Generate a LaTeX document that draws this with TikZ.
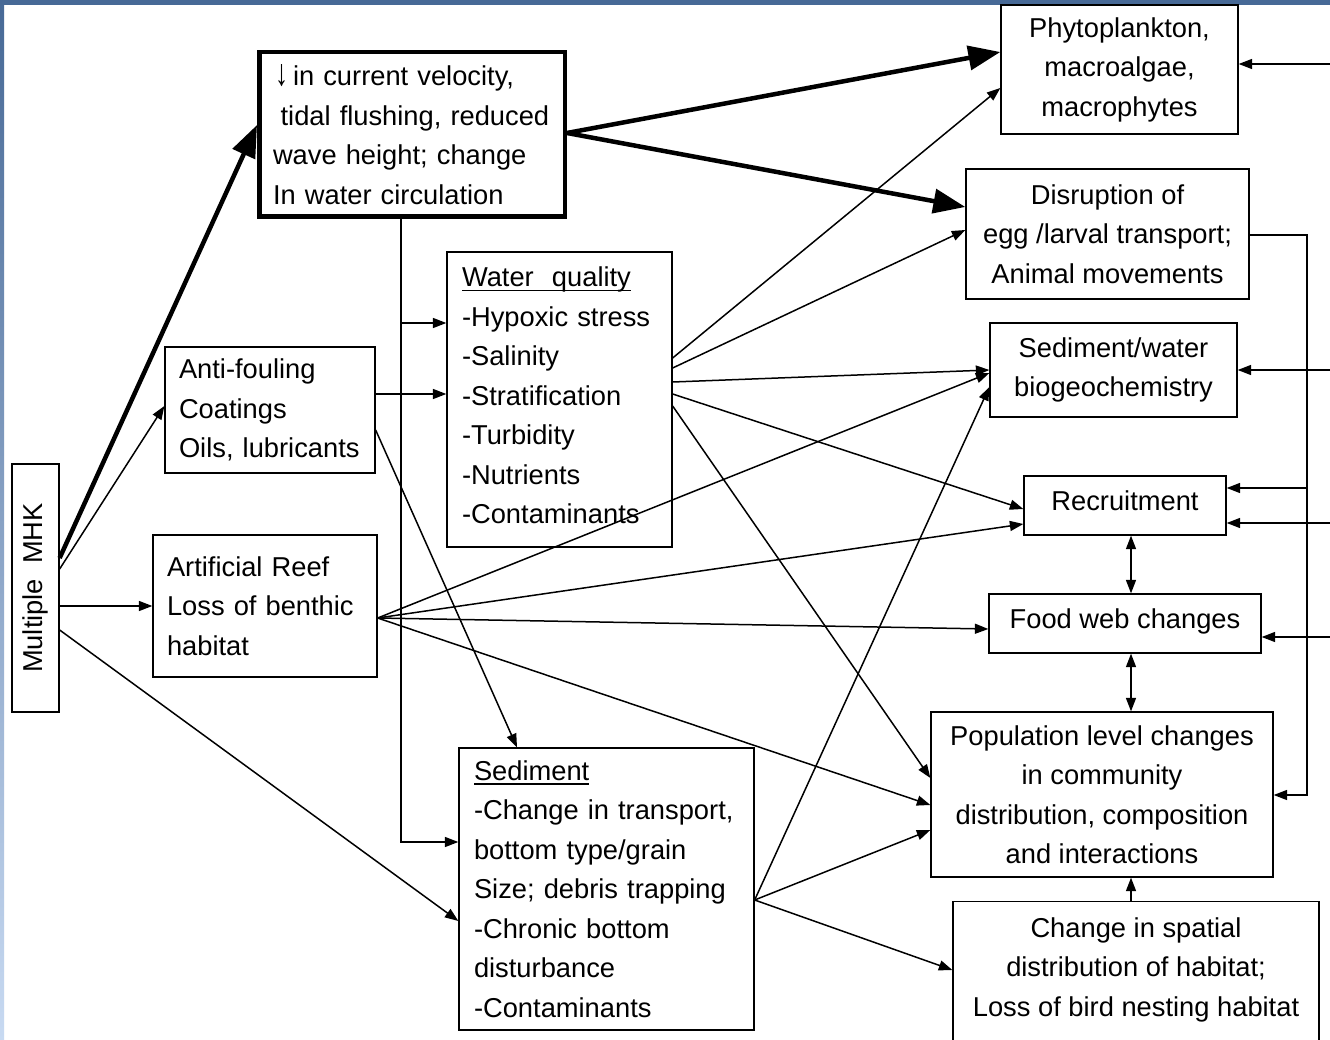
\documentclass[tikz,border=0pt]{standalone}
\usepackage{fontspec}
\setmainfont{Liberation Sans}
\usepackage{graphicx}
\usetikzlibrary{arrows.meta}

% underline sitting just below the baseline (crosses descenders)
\newcommand{\ulbar}[1]{\setbox0=\hbox{#1}\rlap{\rule[-4.4pt]{\wd0}{1.3pt}}\box0}

\definecolor{bandtop}{RGB}{71,105,150}
\definecolor{bandmid}{RGB}{120,165,225}
\definecolor{bandbot}{RGB}{200,218,242}

\tikzset{
  box/.style={draw, line width=1.3pt, inner sep=0pt,
    font=\fontsize{27.3pt}{39.5pt}\selectfont, align=center},
  lbox/.style={box, align=left, inner xsep=14pt},
  arr/.style={line width=1.5pt, -{Triangle[length=13.5pt,width=10pt]}},
  darr/.style={line width=1.5pt, {Triangle[length=13.5pt,width=10pt]}-{Triangle[length=13.5pt,width=10pt]}},
  bigarr/.style={line width=4.5pt, -{Triangle[length=32pt,width=24pt]}},
}

\begin{document}
\begin{tikzpicture}[x=1pt,y=-1pt]
\useasboundingbox (0,0) rectangle (1330,1040);
\clip (0,0) rectangle (1330,1040);

% slide frame
\fill[white] (0,0) rectangle (1330,1040);
\shade[top color=bandtop, middle color=bandmid, bottom color=bandbot] (0,0) rectangle (4,1040);
\fill[bandtop] (0,0) rectangle (1330,5);

% ---- sources and intermediate effects ----
\node[box, minimum width=47pt, minimum height=248pt] (mhk) at (35.5,588)
  {\rotatebox{90}{Multiple~~MHK}};

\node[lbox, line width=4.5pt, inner xsep=13.75pt, text width=278pt,
      minimum width=305.5pt, minimum height=164.5pt] (vel) at (412,134.5)
  {\hspace*{2pt}\resizebox{13pt}{21pt}{\textbf{↓}}\hspace{5pt}in current velocity,\\
   \hspace*{7.6pt}tidal~flushing,~reduced\\
   wave height; change\\
   In water circulation};

\node[lbox, text width=182pt, minimum width=210pt, minimum height=126pt] (af) at (270,410)
  {Anti-fouling\\Coatings\\Oils,~lubricants};

\node[lbox, text width=196pt, minimum width=224pt, minimum height=142pt] (reef) at (265,606)
  {Artificial~Reef\\Loss~of~benthic\\habitat};

\node[lbox, inner xsep=15pt, text width=195pt, minimum width=225pt, minimum height=295pt] (wq) at (559.5,399.5)
  {\ulbar{Water~~quality}\\-Hypoxic~stress\\-Salinity\\-Stratification\\-Turbidity\\-Nutrients\\-Contaminants\\[-31.5pt]\mbox{}};

\node[lbox, inner xsep=15pt, text width=265pt, minimum width=295pt, minimum height=282pt] (sed) at (606.5,889)
  {\ulbar{Sediment}\\-Change~in~transport,\\bottom~type/grain\\Size;~debris~trapping\\-Chronic~bottom\\disturbance\\-Contaminants};

% ---- responses ----
\node[box, minimum width=237pt, minimum height=129pt] (phy) at (1119.5,69.5)
  {Phytoplankton,\\macroalgae,\\macrophytes};
\node[box, minimum width=283pt, minimum height=130pt] (dis) at (1107.5,234)
  {Disruption of\\egg /larval transport;\\Animal movements};
\node[box, minimum width=247pt, minimum height=94pt] (sw) at (1113.5,370)
  {Sediment/water\\biogeochemistry};
\node[box, minimum width=202pt, minimum height=59pt, text depth=9pt] (rec) at (1125,505.5)
  {Recruitment};
\node[box, minimum width=272pt, minimum height=59pt, text depth=9pt] (fw) at (1125,623.5)
  {Food web changes};
\node[box, minimum width=342pt, minimum height=165pt] (pop) at (1102,794.5)
  {Population level changes\\in community\\distribution, composition\\and interactions};
\node[box, anchor=north, minimum width=366pt, minimum height=170pt] (chg) at (1136,901)
  {Change in spatial\\distribution of habitat;\\Loss of bird nesting habitat\\~};

% ---- connectors from the devices ----
\draw[bigarr] (mhk.east |- 0,558) -- (vel.west |- 0,125);
\draw[arr] (mhk.east |- 0,569) -- (af.west |- 0,406);
\draw[arr] (mhk.east |- 0,606) -- (reef.west |- 0,606);
\draw[arr] (mhk.east |- 0,630) -- (sed.west |- 0,921);

\draw[bigarr] (vel.east |- 0,133) -- (phy.west |- 0,52);
\draw[bigarr] (vel.east |- 0,133) -- (dis.west |- 0,207);
\draw[arr] (vel.south -| 401,0) |- (sed.west |- 0,842);
\draw[arr] (vel.south -| 401,0) |- (wq.west |- 0,323);

\draw[arr] (af.east |- 0,394) -- (wq.west |- 0,394);
\draw[arr] (af.east |- 0,430) -- (sed.north -| 517,0);

\draw[arr] (reef.east |- 0,618) -- (sw.west |- 0,373);
\draw[arr] (reef.east |- 0,618) -- (rec.west |- 0,524);
\draw[arr] (reef.east |- 0,618) -- (fw.west |- 0,629);
\draw[arr] (reef.east |- 0,618) -- (pop.west |- 0,805);

% ---- water quality effects ----
\draw[arr] (wq.east |- 0,358) -- (phy.west |- 0,88);
\draw[arr] (wq.east |- 0,368) -- (dis.west |- 0,230);
\draw[arr] (wq.east |- 0,382) -- (sw.west |- 0,370);
\draw[arr] (wq.east |- 0,394) -- (rec.west |- 0,509);
\draw[arr] (wq.east |- 0,406) -- (pop.west |- 0,778);

% ---- sediment effects ----
\draw[arr] (sed.east |- 0,900) -- (sw.west |- 0,387);
\draw[arr] (sed.east |- 0,900) -- (pop.west |- 0,830);
\draw[arr] (sed.east |- 0,900) -- (chg.west |- 0,970);

% ---- links among responses ----
\draw[darr] (rec.south -| 1131,0) -- (fw.north -| 1131,0);
\draw[darr] (fw.south -| 1131,0) -- (pop.north -| 1131,0);
\draw[arr] (chg.north -| 1131,0) -- (pop.south -| 1131,0);

\coordinate (bus) at (1307,235);
\draw[arr] (dis.east |- bus) -- (bus) |- (pop.east |- 0,795);
\draw[arr] (bus) |- (rec.east |- 0,488);

% ---- feeds entering from the right margin ----
\coordinate (inphy) at (1335,64);
\coordinate (insw) at (1335,370);
\coordinate (inrec) at (1335,523);
\coordinate (infw) at (1335,637);
\draw[arr] (inphy) -- (phy.east |- inphy);
\draw[arr] (insw) -- (sw.east |- insw);
\draw[arr] (inrec) -- (rec.east |- inrec);
\draw[arr] (infw) -- (fw.east |- infw);
\end{tikzpicture}
\end{document}
